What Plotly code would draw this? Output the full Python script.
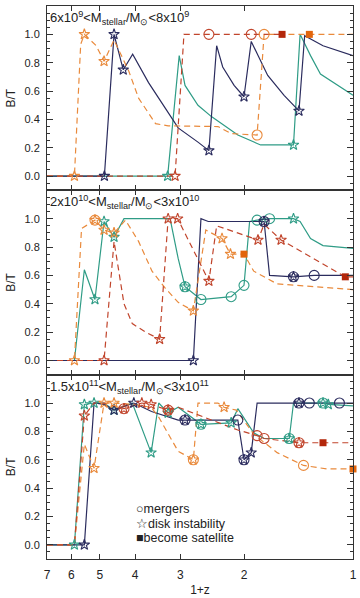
import numpy as np
import plotly.graph_objects as go
from plotly.subplots import make_subplots

# ---------------- data (x = 1+z, y = B/T, ev = event codes) ----------------
# ev codes: "" none, "s" disk instability, "m" merger, "ms" both, "q" become satellite
NAVY = "#2b2c5e"
TEAL = "#2f9c86"
ORANGE = "#e98a3c"
RED = "#c1452c"
SQ_COLOR = {ORANGE: "#e2650c", RED: "#b3270b"}

panel_labels = [
    "6x10<sup>9</sup>&lt;M<sub>stellar</sub>/M<sub>\u2299</sub>&lt;8x10<sup>9</sup>",
    "2x10<sup>10</sup>&lt;M<sub>stellar</sub>/M<sub>\u2299</sub>&lt;3x10<sup>10</sup>",
    "1.5x10<sup>11</sup>&lt;M<sub>stellar</sub>/M<sub>\u2299</sub>&lt;3x10<sup>11</sup>",
]
x_ticks = [1, 2, 3, 4, 5, 6, 7]
y_ticks_top = [0.0, 0.2, 0.4, 0.6, 0.8, 1.0, 1.2]
y_ticks = [0.0, 0.2, 0.4, 0.6, 0.8, 1.0]
legend_items = ["\u25cbmergers", "\u2606disk instability", "\u25a0become satellite"]

# panel 1
p1_navy_x = [7.0, 4.86, 4.57, 4.31, 4.06, 3.67, 3.30, 3.04, 2.68, 2.50, 2.38, 2.29, 2.13, 2.00, 1.91, 1.72, 1.55, 1.41, 1.36, 1.21, 1.00]
p1_navy_y = [0.0, 0.0, 1.0, 0.75, 0.86, 0.66, 0.48, 0.34, 0.24, 0.18, 0.92, 0.77, 0.64, 0.56, 0.95, 0.71, 0.57, 0.46, 0.99, 0.92, 0.85]
p1_navy_ev = ["", "s", "s", "s", "", "", "", "", "", "s", "", "", "", "s", "", "", "", "s", "", "", ""]

p1_teal_x = [7.0, 3.25, 3.02, 2.91, 2.68, 2.46, 2.08, 1.80, 1.46, 1.40, 1.31, 1.23, 1.00]
p1_teal_y = [0.0, 0.0, 0.85, 0.64, 0.50, 0.42, 0.29, 0.22, 0.22, 1.0, 0.85, 0.72, 0.57]
p1_teal_ev = ["", "s", "", "", "", "", "", "", "s", "", "", "", ""]

p1_orange_x = [7.0, 5.88, 5.65, 5.52, 5.12, 4.87, 4.57, 4.16, 3.91, 3.51, 3.24, 2.36, 2.17, 1.84, 1.76, 1.32, 1.00]
p1_orange_y = [0.0, 0.0, 0.93, 1.0, 0.92, 0.81, 0.96, 0.74, 0.55, 0.37, 0.355, 0.35, 0.30, 0.29, 1.0, 1.0, 1.0]
p1_orange_ev = ["", "s", "", "s", "", "s", "", "", "", "", "", "", "", "m", "m", "q", ""]

p1_red_x = [7.0, 3.10, 2.93, 2.50, 1.91, 1.57]
p1_red_y = [0.0, 0.0, 1.0, 1.0, 1.0, 1.0]
p1_red_ev = ["", "s", "", "m", "m", "q"]

# panel 2
p2_navy_x = [7.0, 2.76, 2.63, 2.51, 1.86, 1.76, 1.70, 1.46, 1.28, 1.00]
p2_navy_y = [0.0, 0.0, 1.0, 0.98, 0.98, 0.98, 0.60, 0.59, 0.60, 0.60]
p2_navy_ev = ["", "s", "", "", "", "ms", "", "ms", "m", ""]

p2_teal_x = [7.0, 5.88, 5.52, 5.16, 4.87, 4.57, 4.29, 3.20, 3.04, 2.91, 2.63, 2.17, 2.00, 1.93, 1.84, 1.70, 1.46, 1.40, 1.31, 1.21, 1.00]
p2_teal_y = [0.0, 0.0, 0.64, 0.43, 0.98, 0.87, 1.0, 1.0, 0.72, 0.52, 0.43, 0.45, 0.53, 0.98, 0.99, 1.0, 1.0, 0.98, 0.86, 0.81, 0.79]
p2_teal_ev = ["", "", "", "s", "s", "s", "", "", "", "ms", "m", "m", "m", "", "m", "m", "s", "", "", "", ""]

p2_orange_x = [7.0, 5.88, 5.62, 5.16, 4.87, 4.57, 4.25, 3.91, 3.59, 3.30, 3.04, 2.76, 2.55, 2.30, 2.18, 2.00, 1.88, 1.62, 1.00]
p2_orange_y = [0.0, 0.0, 0.93, 0.99, 0.92, 0.90, 0.99, 0.84, 0.63, 0.51, 0.41, 0.35, 0.92, 0.86, 0.75, 0.75, 0.63, 0.54, 0.50]
p2_orange_ev = ["", "s", "", "ms", "s", "s", "", "", "", "", "", "s", "", "s", "s", "q", "", "", ""]

p2_red_x = [7.0, 4.87, 4.57, 4.43, 4.29, 4.07, 3.74, 3.42, 3.24, 3.05, 2.50, 2.38, 1.83, 1.76, 1.58, 1.05, 1.00]
p2_red_y = [0.0, 0.0, 0.84, 0.63, 0.40, 0.26, 0.20, 0.15, 1.0, 1.0, 0.56, 0.95, 0.85, 0.96, 0.85, 0.59, 0.59]
p2_red_ev = ["", "s", "", "", "", "", "", "s", "s", "s", "s", "", "s", "", "s", "q", ""]

# panel 3
p3_navy_x = [7.0, 5.52, 5.19, 4.87, 4.57, 4.03, 3.60, 3.04, 2.91, 2.08, 2.00, 1.91, 1.84, 1.41, 1.32, 1.09, 1.00]
p3_navy_y = [0.0, 0.0, 1.0, 0.99, 0.95, 1.0, 0.94, 0.88, 0.88, 0.88, 0.60, 0.65, 1.0, 1.0, 1.0, 1.0, 1.0]
p3_navy_ev = ["", "s", "", "", "s", "s", "", "", "ms", "m", "ms", "s", "", "ms", "m", "m", ""]

p3_teal_x = [7.0, 5.88, 5.52, 5.19, 4.87, 4.57, 4.07, 3.61, 3.44, 3.24, 3.04, 2.63, 2.17, 2.08, 1.88, 1.76, 1.50, 1.46, 1.21, 1.17, 1.00]
p3_teal_y = [0.0, 0.0, 0.99, 1.0, 1.0, 0.95, 1.0, 0.65, 1.0, 0.93, 0.97, 0.85, 0.86, 0.96, 0.79, 0.75, 0.75, 1.0, 1.0, 0.99, 0.98]
p3_teal_ev = ["", "s", "s", "s", "", "s", "", "s", "", "s", "", "ms", "s", "", "", "", "ms", "", "ms", "s", ""]

p3_orange_x = [7.0, 5.88, 5.52, 5.19, 4.87, 4.57, 4.03, 3.61, 3.44, 3.04, 2.76, 2.68, 2.36, 2.27, 2.10, 1.88, 1.62, 1.37, 1.18, 1.00]
p3_orange_y = [0.0, 0.0, 0.71, 0.54, 1.0, 1.0, 0.99, 0.97, 0.90, 0.66, 0.60, 1.0, 1.0, 0.97, 0.95, 0.78, 0.65, 0.56, 0.535, 0.535]
p3_orange_ev = ["", "", "", "s", "s", "s", "", "", "", "", "ms", "", "", "s", "", "", "", "m", "", "q"]

p3_red_x = [7.0, 5.88, 5.52, 5.19, 4.87, 4.29, 3.83, 3.61, 3.24, 3.04, 2.46, 2.08, 1.84, 1.76, 1.41, 1.21, 1.00]
p3_red_y = [0.0, 0.0, 0.91, 1.0, 1.0, 0.96, 1.0, 0.99, 0.95, 0.97, 0.88, 0.81, 0.77, 0.75, 0.72, 0.72, 0.72]
p3_red_ev = ["", "", "s", "", "", "ms", "s", "s", "ms", "", "", "", "m", "m", "ms", "q", ""]

panels = [
    [(p1_teal_x, p1_teal_y, p1_teal_ev, TEAL, "solid"),
     (p1_navy_x, p1_navy_y, p1_navy_ev, NAVY, "solid"),
     (p1_orange_x, p1_orange_y, p1_orange_ev, ORANGE, "dash"),
     (p1_red_x, p1_red_y, p1_red_ev, RED, "dash")],
    [(p2_teal_x, p2_teal_y, p2_teal_ev, TEAL, "solid"),
     (p2_navy_x, p2_navy_y, p2_navy_ev, NAVY, "solid"),
     (p2_orange_x, p2_orange_y, p2_orange_ev, ORANGE, "dash"),
     (p2_red_x, p2_red_y, p2_red_ev, RED, "dash")],
    [(p3_teal_x, p3_teal_y, p3_teal_ev, TEAL, "solid"),
     (p3_navy_x, p3_navy_y, p3_navy_ev, NAVY, "solid"),
     (p3_orange_x, p3_orange_y, p3_orange_ev, ORANGE, "dash"),
     (p3_red_x, p3_red_y, p3_red_ev, RED, "dash")],
]

# ---------------- figure ----------------
FONT = "Liberation Sans, Arial, Helvetica, sans-serif"
fig = make_subplots(rows=3, cols=1, shared_xaxes=True, vertical_spacing=0)

for r, series in enumerate(panels, start=1):
    for xs, ys, evs, col, dash in series:
        fig.add_trace(go.Scatter(
            x=xs, y=ys, mode="lines",
            line=dict(color=col, width=1.2, dash="6px,4px" if dash == "dash" else "solid"),
            showlegend=False, hoverinfo="skip", cliponaxis=False), row=r, col=1)
    for xs, ys, evs, col, dash in series:
        sx = [x for x, e in zip(xs, evs) if "s" in e]
        sy = [y for y, e in zip(ys, evs) if "s" in e]
        mx = [x for x, e in zip(xs, evs) if "m" in e]
        my = [y for y, e in zip(ys, evs) if "m" in e]
        qx = [x for x, e in zip(xs, evs) if "q" in e]
        qy = [y for y, e in zip(ys, evs) if "q" in e]
        if sx:
            fig.add_trace(go.Scatter(x=sx, y=sy, mode="markers",
                marker=dict(symbol="star-open", size=8, color=col, line=dict(width=1.1, color=col)),
                showlegend=False, hoverinfo="skip", cliponaxis=False), row=r, col=1)
        if mx:
            fig.add_trace(go.Scatter(x=mx, y=my, mode="markers",
                marker=dict(symbol="circle-open", size=10, color=col, line=dict(width=1.1, color=col)),
                showlegend=False, hoverinfo="skip", cliponaxis=False), row=r, col=1)
        if qx:
            fig.add_trace(go.Scatter(x=qx, y=qy, mode="markers",
                marker=dict(symbol="square", size=7, color=SQ_COLOR.get(col, col)),
                showlegend=False, hoverinfo="skip", cliponaxis=False), row=r, col=1)

for r in range(1, 4):
    fig.update_xaxes(type="log", range=[np.log10(7), 0], tickvals=x_ticks,
                     ticktext=[str(v) for v in x_ticks],
                     ticks="inside", ticklen=5, tickcolor="#333", mirror="ticks",
                     showline=True, linecolor="#333", linewidth=1, showgrid=False,
                     zeroline=False, tickfont=dict(size=12, family=FONT, color="#222"),
                     ticklabelstandoff=5, row=r, col=1)
    fig.update_yaxes(range=[-0.1, 1.2], tickvals=(y_ticks_top if r == 1 else y_ticks),
                     tickformat=".1f", ticks="inside", ticklen=6, tickcolor="#333",
                     minor=dict(tickmode="linear", tick0=0, dtick=0.05, ticks="inside",
                                ticklen=3, tickcolor="#333"),
                     mirror="ticks", showline=True, linecolor="#333", linewidth=1,
                     showgrid=False, zeroline=False,
                     tickfont=dict(size=11, family=FONT, color="#222"), ticklabelstandoff=4,
                     title=dict(text="B/T", font=dict(size=12, family=FONT, color="#222"), standoff=6),
                     row=r, col=1)

fig.update_xaxes(title=dict(text="1+z", font=dict(size=12, family=FONT, color="#222"), standoff=4),
                 row=3, col=1)

# panel labels
doms = [fig.layout.yaxis.domain, fig.layout.yaxis2.domain, fig.layout.yaxis3.domain]
for lab, dom in zip(panel_labels, doms):
    fig.add_annotation(text=lab, xref="paper", yref="paper", x=0, y=dom[1],
                       xanchor="left", yanchor="top", xshift=1, yshift=-1, showarrow=False,
                       font=dict(size=13, family=FONT, color="#222"))

# legend text
for i, item in enumerate(legend_items):
    fig.add_annotation(text=item, xref="paper", yref="paper", x=0.283, y=0.0903 - i * 0.0262,
                       xanchor="left", yanchor="middle", showarrow=False,
                       font=dict(size=12.5, family=FONT, color="#222"))

fig.update_layout(width=360, height=598, margin=dict(l=47, r=3, t=6, b=35),
                  paper_bgcolor="white", plot_bgcolor="white",
                  font=dict(family=FONT, color="#222"))

fig.write_html("out.html")
